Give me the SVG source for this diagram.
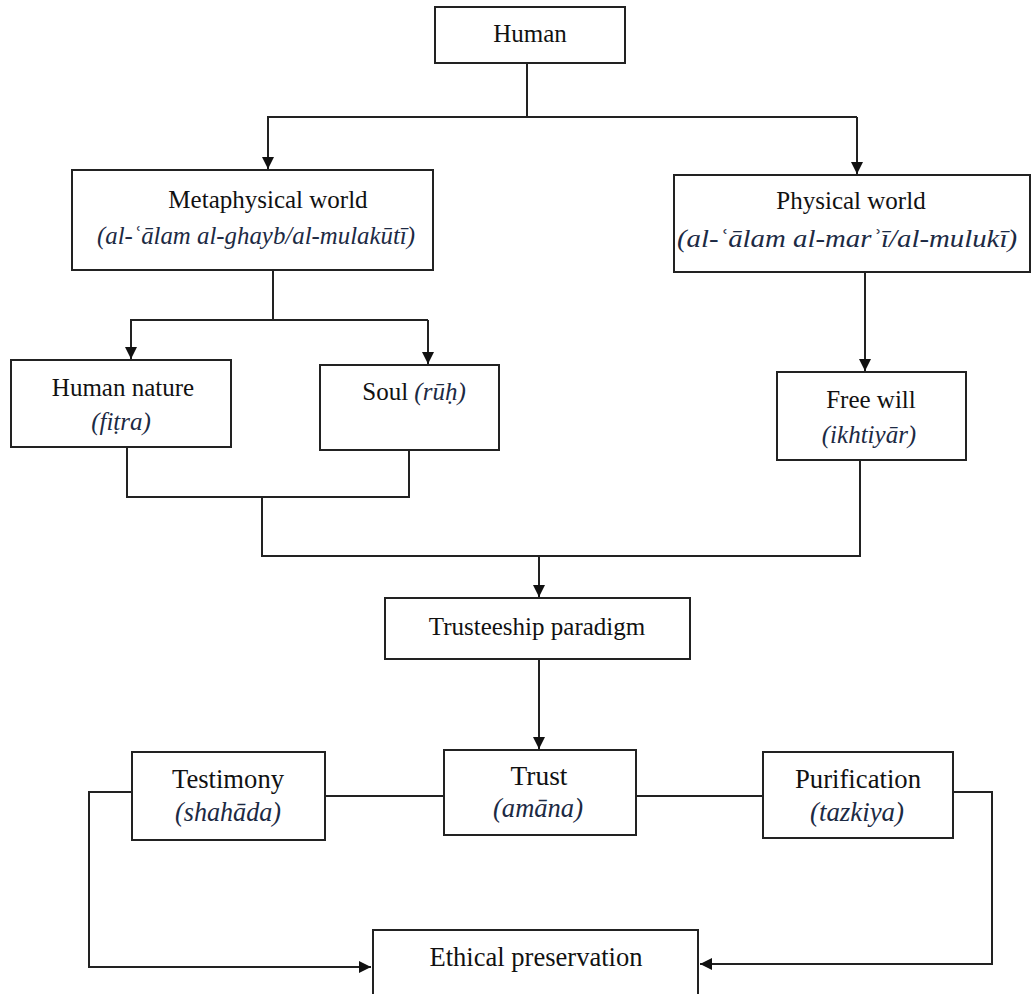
<svg xmlns="http://www.w3.org/2000/svg" width="1033" height="994" viewBox="0 0 1033 994">
  <style>
    .box { fill: #ffffff; stroke: #222222; stroke-width: 2; }
    .wire { fill: none; stroke: #222222; stroke-width: 2; }
    .lbl { font-family: "Liberation Serif", "Times New Roman", serif; font-size: 25px; fill: #111111; text-anchor: middle; }
    .it { font-style: italic; fill: #1c2a44; }
    .cond { font-size: 27px; }
  </style>
  <defs>
    <marker id="arrow" markerWidth="12" markerHeight="12" refX="10" refY="5" orient="auto" markerUnits="userSpaceOnUse" viewBox="0 0 10 10">
      <path d="M0,0 L10,5 L0,10 Z" fill="#111111"/>
    </marker>
  </defs>
  <rect width="1033" height="994" fill="#ffffff"/>

  <g id="connectors">
    <!-- Human splits into the two worlds -->
    <path class="wire" d="M527,63 V117"/>
    <path class="wire" d="M267,117 H857"/>
    <path class="wire" d="M268,117 V169" marker-end="url(#arrow)"/>
    <path class="wire" d="M857,117 V174" marker-end="url(#arrow)"/>
    <!-- Metaphysical world splits into nature and soul -->
    <path class="wire" d="M273,270 V320"/>
    <path class="wire" d="M130,320 H428"/>
    <path class="wire" d="M131,320 V359" marker-end="url(#arrow)"/>
    <path class="wire" d="M428,320 V364" marker-end="url(#arrow)"/>
    <!-- Physical world to free will -->
    <path class="wire" d="M865,272 V371" marker-end="url(#arrow)"/>
    <!-- joining into trusteeship -->
    <path class="wire" d="M127,447 V497 H409 V450"/>
    <path class="wire" d="M262,497 V556 H860 V460"/>
    <path class="wire" d="M539,556 V597" marker-end="url(#arrow)"/>
    <path class="wire" d="M539,659 V749" marker-end="url(#arrow)"/>
    <!-- lateral links in the bottom row -->
    <path class="wire" d="M325,796 H444"/>
    <path class="wire" d="M636,796 H763"/>
    <!-- outcomes to ethical preservation -->
    <path class="wire" d="M132,792 H89 V967 H371" marker-end="url(#arrow)"/>
    <path class="wire" d="M953,792 H992 V964 H700" marker-end="url(#arrow)"/>
  </g>

  <g id="human">
    <rect class="box" x="435" y="7" width="190" height="56"/>
    <text class="lbl" x="530" y="42">Human</text>
  </g>

  <g id="metaphysical-world">
    <rect class="box" x="72" y="170" width="361" height="100"/>
    <text class="lbl" x="268" y="208">Metaphysical world</text>
    <text class="lbl it" x="256" y="244" textLength="318" lengthAdjust="spacingAndGlyphs">(al-ʿālam al-ghayb/al-mulakūtī)</text>
  </g>

  <g id="physical-world">
    <rect class="box" x="674" y="175" width="356" height="97"/>
    <text class="lbl" x="851" y="209">Physical world</text>
    <text class="lbl it" x="847" y="247" textLength="340" lengthAdjust="spacingAndGlyphs">(al-ʿālam al-marʾī/al-mulukī)</text>
  </g>

  <g id="human-nature">
    <rect class="box" x="11" y="360" width="220" height="87"/>
    <text class="lbl" x="123" y="396">Human nature</text>
    <text class="lbl it" x="121" y="430">(fiṭra)</text>
  </g>

  <g id="soul">
    <rect class="box" x="320" y="365" width="179" height="85"/>
    <text class="lbl" x="414" y="400">Soul <tspan class="it">(rūḥ)</tspan></text>
  </g>

  <g id="free-will">
    <rect class="box" x="777" y="372" width="189" height="88"/>
    <text class="lbl" x="871" y="408">Free will</text>
    <text class="lbl it" x="869" y="443">(ikhtiyār)</text>
  </g>

  <g id="trusteeship-paradigm">
    <rect class="box" x="385" y="598" width="305" height="61"/>
    <text class="lbl" x="537" y="635">Trusteeship paradigm</text>
  </g>

  <g id="testimony">
    <rect class="box" x="132" y="752" width="193" height="88"/>
    <text class="lbl cond" x="228" y="788" textLength="112" lengthAdjust="spacingAndGlyphs">Testimony</text>
    <text class="lbl it cond" x="228" y="821" textLength="106" lengthAdjust="spacingAndGlyphs">(shahāda)</text>
  </g>

  <g id="trust">
    <rect class="box" x="444" y="750" width="192" height="85"/>
    <text class="lbl cond" x="539" y="785" textLength="57" lengthAdjust="spacingAndGlyphs">Trust</text>
    <text class="lbl it cond" x="538" y="817" textLength="90" lengthAdjust="spacingAndGlyphs">(amāna)</text>
  </g>

  <g id="purification">
    <rect class="box" x="763" y="752" width="190" height="86"/>
    <text class="lbl cond" x="858" y="788" textLength="126" lengthAdjust="spacingAndGlyphs">Purification</text>
    <text class="lbl it cond" x="857" y="821" textLength="94" lengthAdjust="spacingAndGlyphs">(tazkiya)</text>
  </g>

  <g id="ethical-preservation">
    <rect class="box" x="373" y="930" width="325" height="70"/>
    <text class="lbl cond" x="536" y="966" textLength="213" lengthAdjust="spacingAndGlyphs">Ethical preservation</text>
  </g>
</svg>
